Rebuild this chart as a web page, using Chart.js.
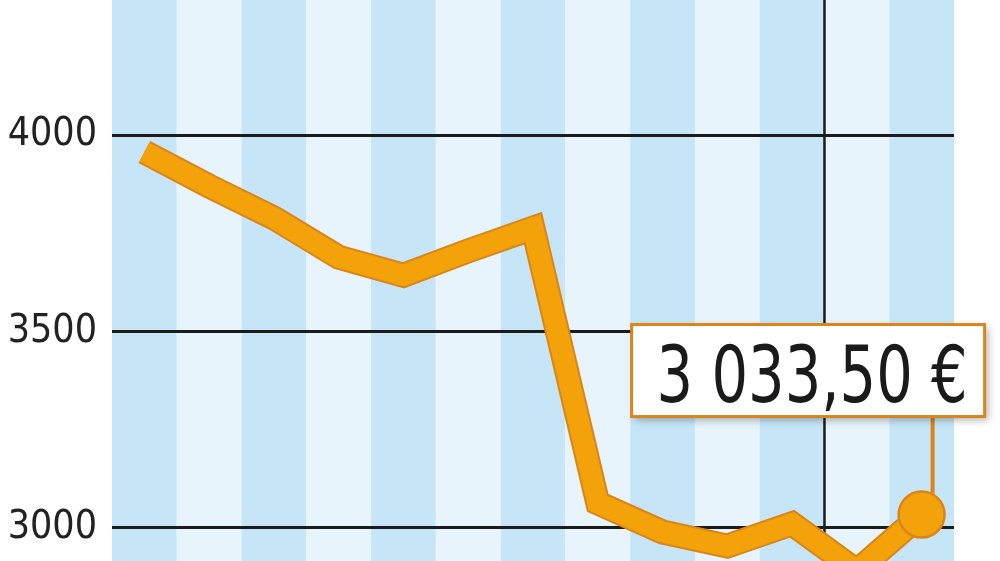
<!DOCTYPE html>
<html>
<head>
<meta charset="utf-8">
<script src="https://cdn.jsdelivr.net/npm/chart.js@4.4.0/dist/chart.umd.min.js"></script>
<style>
  html, body { margin: 0; padding: 0; background: #fff; overflow: hidden; }
  #wrap { width: 1000px; height: 561px; overflow: hidden; }
</style>
</head>
<body>
<div id="wrap"><canvas id="lineChart" width="1000" height="640"></canvas></div>
<script>
// datos del grafico
const labels = ['1', '2', '3', '4', '5', '6', '7', '8', '9', '10', '11', '12', '13'];
const valores = [3957, 3870, 3789, 3689, 3643, 3705, 3763, 3063, 2989, 2953, 3010, 2890, 3033.5];
const yTicks = [3000, 3500, 4000];
const corteDespues = 10; // linea vertical entre la columna 10 y la 11

const naranja = '#F4A20A';
const naranjaBorde = '#D98519';

// formato "3 033,50 €"
function formatoEuro(v) {
  const partes = v.toFixed(2).split('.');
  const entero = partes[0].replace(/\B(?=(\d{3})+(?!\d))/g, ' ');
  return entero + ',' + partes[1] + ' €';
}

// franjas azules y linea vertical
const franjas = {
  id: 'franjas',
  beforeDraw(chart) {
    const { ctx, chartArea, scales } = chart;
    const x = scales.x;
    const w = x.getPixelForValue(1) - x.getPixelForValue(0);
    ctx.save();
    labels.forEach((l, i) => {
      const cx = x.getPixelForValue(i);
      ctx.fillStyle = i % 2 === 0 ? '#C6E6F8' : '#E7F4FC';
      ctx.fillRect(cx - w / 2, chartArea.top, w, chartArea.bottom - chartArea.top);
    });
    const xc = (x.getPixelForValue(corteDespues) + x.getPixelForValue(corteDespues + 1)) / 2;
    ctx.strokeStyle = '#1b1b1b';
    ctx.lineWidth = 2.5;
    ctx.beginPath();
    ctx.moveTo(xc, chartArea.top);
    ctx.lineTo(xc, chartArea.bottom);
    ctx.stroke();
    ctx.restore();
  }
};

// caja con el ultimo valor
const etiqueta = {
  id: 'etiqueta',
  afterDatasetsDraw(chart) {
    const { ctx } = chart;
    const meta = chart.getDatasetMeta(0);
    const p = meta.data[meta.data.length - 1];
    const bx = p.x - 290, by = p.y - 190, bw = 353, bh = 92;
    ctx.save();
    // linea hasta el punto
    ctx.strokeStyle = naranjaBorde;
    ctx.lineWidth = 4;
    ctx.beginPath();
    ctx.moveTo(p.x + 11, by + bh);
    ctx.lineTo(p.x + 11, p.y - 21);
    ctx.stroke();
    // caja
    ctx.shadowColor = 'rgba(0,0,0,0.3)';
    ctx.shadowBlur = 8;
    ctx.shadowOffsetX = 3;
    ctx.shadowOffsetY = 3;
    ctx.fillStyle = '#fff';
    ctx.fillRect(bx, by, bw, bh);
    ctx.shadowColor = 'transparent';
    ctx.strokeStyle = naranjaBorde;
    ctx.lineWidth = 3;
    ctx.strokeRect(bx, by, bw, bh);
    // texto estrecho (no hay fuente narrow, se escala en x)
    ctx.fillStyle = '#1a1a1a';
    ctx.font = '78px "DejaVu Sans Condensed", "DejaVu Sans", sans-serif';
    ctx.textAlign = 'center';
    ctx.textBaseline = 'alphabetic';
    ctx.translate(bx + bw / 2 + 4, by + 77);
    ctx.scale(0.82, 1);
    ctx.fillText(formatoEuro(valores[valores.length - 1]), 0, 0);
    ctx.restore();
  }
};

const ultimo = valores.length - 1;
const ctx = document.getElementById('lineChart').getContext('2d');
const chartt = new Chart(ctx, {
  type: 'line',
  data: {
    labels: labels,
    datasets: [
      {
        data: valores,
        borderColor: naranja,
        borderWidth: 21,
        borderJoinStyle: 'miter',
        borderCapStyle: 'butt',
        tension: 0,
        pointRadius: c => c.dataIndex === ultimo ? 23 : 0,
        pointBackgroundColor: naranja,
        pointBorderColor: naranjaBorde,
        pointBorderWidth: 2.5,
        order: 0,
      },
      {
        data: valores,
        borderColor: naranjaBorde,
        borderWidth: 25,
        borderJoinStyle: 'miter',
        borderCapStyle: 'butt',
        tension: 0,
        pointRadius: 0,
        order: 1,
      },
    ],
  },
  options: {
    responsive: false,
    animation: false,
    layout: { autoPadding: false, padding: { left: 0, right: 46, top: 0, bottom: 0 } },
    plugins: {
      legend: { display: false },
      tooltip: { enabled: false },
    },
    scales: {
      x: { display: false, offset: true },
      y: {
        min: 2714,
        max: 4344,
        afterBuildTicks: s => { s.ticks = yTicks.map(v => ({ value: v })); },
        afterFit: s => { s.width = 112; s.paddingTop = 0; s.paddingBottom = 0; },
        border: { display: false },
        grid: { color: '#1b1b1b', lineWidth: 3, drawTicks: false },
        ticks: {
          padding: 15,
          color: '#222',
          callback: v => String(v),
          font: { family: '"DejaVu Sans Condensed", "DejaVu Sans", sans-serif', size: 39 },
        },
      },
    },
  },
  plugins: [franjas, etiqueta],
});
</script>
</body>
</html>
